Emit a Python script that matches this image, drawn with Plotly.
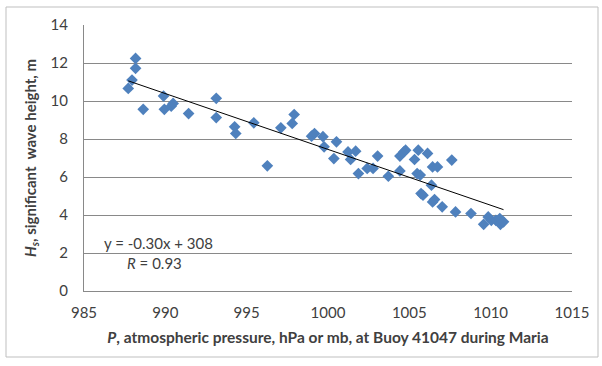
import numpy as np
import plotly.graph_objects as go

# Atmospheric pressure (hPa) and significant wave height (m), Buoy 41047, Maria
pressure = [987.72, 987.95, 988.17, 988.17, 988.64, 989.89, 989.94, 990.36, 990.48, 991.43,
            993.13, 993.13, 994.26, 994.33, 995.44, 996.27, 997.10, 997.80, 997.92, 998.99,
            999.17, 999.69, 999.76, 1000.36, 1000.52, 1001.23, 1001.39, 1001.70, 1001.87, 1002.41,
            1002.77, 1003.05, 1003.71, 1004.42, 1004.42, 1004.66, 1004.77, 1005.32, 1005.55, 1005.48,
            1005.67, 1005.84, 1005.72, 1006.12, 1006.36, 1006.43, 1006.55, 1006.43, 1006.73, 1007.02,
            1007.61, 1007.84, 1008.79, 1009.57, 1009.85, 1010.04, 1010.32, 1010.56, 1010.60, 1010.79]
wave_height = [10.66, 11.10, 11.72, 12.24, 9.56, 10.26, 9.56, 9.73, 9.87, 9.34,
               10.14, 9.13, 8.64, 8.29, 8.85, 6.59, 8.59, 8.82, 9.29, 8.15,
               8.29, 8.12, 7.59, 6.97, 7.85, 7.32, 6.92, 7.36, 6.18, 6.45,
               6.45, 7.10, 6.04, 6.32, 7.10, 7.32, 7.41, 6.92, 7.41, 6.18,
               6.10, 5.04, 5.13, 7.24, 5.57, 6.53, 4.81, 4.69, 6.53, 4.43,
               6.89, 4.16, 4.08, 3.51, 3.90, 3.72, 3.72, 3.81, 3.51, 3.64]

x_ticks = [985, 990, 995, 1000, 1005, 1010, 1015]
y_ticks = [0, 2, 4, 6, 8, 10, 12, 14]
equation_text = "y = -0.30x + 308"
r_text = "<i>R</i> = 0.93"

FONT = "Lato"
TEXT_COLOR = "#404040"
GRID = "#898989"

px_arr = np.array(pressure)
hs_arr = np.array(wave_height)
slope, intercept = np.polyfit(px_arr, hs_arr, 1)
trend_x = np.array([px_arr.min(), px_arr.max()])
trend_y = slope * trend_x + intercept

fig = go.Figure()
fig.add_trace(go.Scatter(
    x=pressure, y=wave_height, mode="markers",
    marker=dict(symbol="diamond", size=9, color="#4F81BD", line=dict(width=0)),
    showlegend=False, hoverinfo="x+y"))
fig.add_trace(go.Scatter(
    x=trend_x, y=trend_y, mode="lines",
    line=dict(color="#000000", width=1),
    showlegend=False, hoverinfo="skip"))

fig.update_layout(
    width=602, height=366,
    margin=dict(l=84, r=30, t=25, b=75),
    paper_bgcolor="white", plot_bgcolor="white",
    font=dict(family=FONT, size=15, color=TEXT_COLOR),
    xaxis=dict(
        range=[985, 1015], tickvals=x_ticks, ticktext=[str(v) for v in x_ticks],
        showgrid=False, zeroline=False, showline=True, linecolor=GRID, linewidth=1,
        ticks="", ticklabelstandoff=8, tickfont=dict(size=15, color=TEXT_COLOR),
        title=dict(text="<b><i>P</i>, atmospheric pressure, hPa or mb, at Buoy 41047 during Maria</b>",
                   font=dict(size=15.5, color=TEXT_COLOR), standoff=12),
    ),
    yaxis=dict(
        range=[0, 14], tickvals=y_ticks, ticktext=[str(v) for v in y_ticks],
        showgrid=True, gridcolor=GRID, gridwidth=1, zeroline=False,
        showline=True, linecolor=GRID, linewidth=1,
        ticks="", ticklabelstandoff=12, tickfont=dict(size=15, color=TEXT_COLOR),
        title=dict(text="<b><i>H<sub>s</sub></i>, significant  wave height, m</b>",
                   font=dict(size=15, color=TEXT_COLOR), standoff=10),
    ),
    shapes=[dict(type="rect", xref="paper", yref="paper",
                 x0=(6 - 84) / 488, x1=(598 - 84) / 488,
                 y0=(291 - 357) / 266, y1=(291 - 7) / 266,
                 line=dict(color="#BFBFBF", width=1), layer="below")],
    annotations=[
        dict(text=equation_text, xref="paper", yref="y", x=(102 - 84) / 488, y=2.52,
             xanchor="left", yanchor="middle", showarrow=False,
             font=dict(family=FONT, size=15, color=TEXT_COLOR)),
        dict(text=r_text, xref="paper", yref="y", x=(125 - 84) / 488, y=1.47,
             xanchor="left", yanchor="middle", showarrow=False,
             font=dict(family=FONT, size=15, color=TEXT_COLOR)),
    ],
)

fig.write_html("out.html", config={"displayModeBar": False},
               post_script="document.body.style.margin='0';")
